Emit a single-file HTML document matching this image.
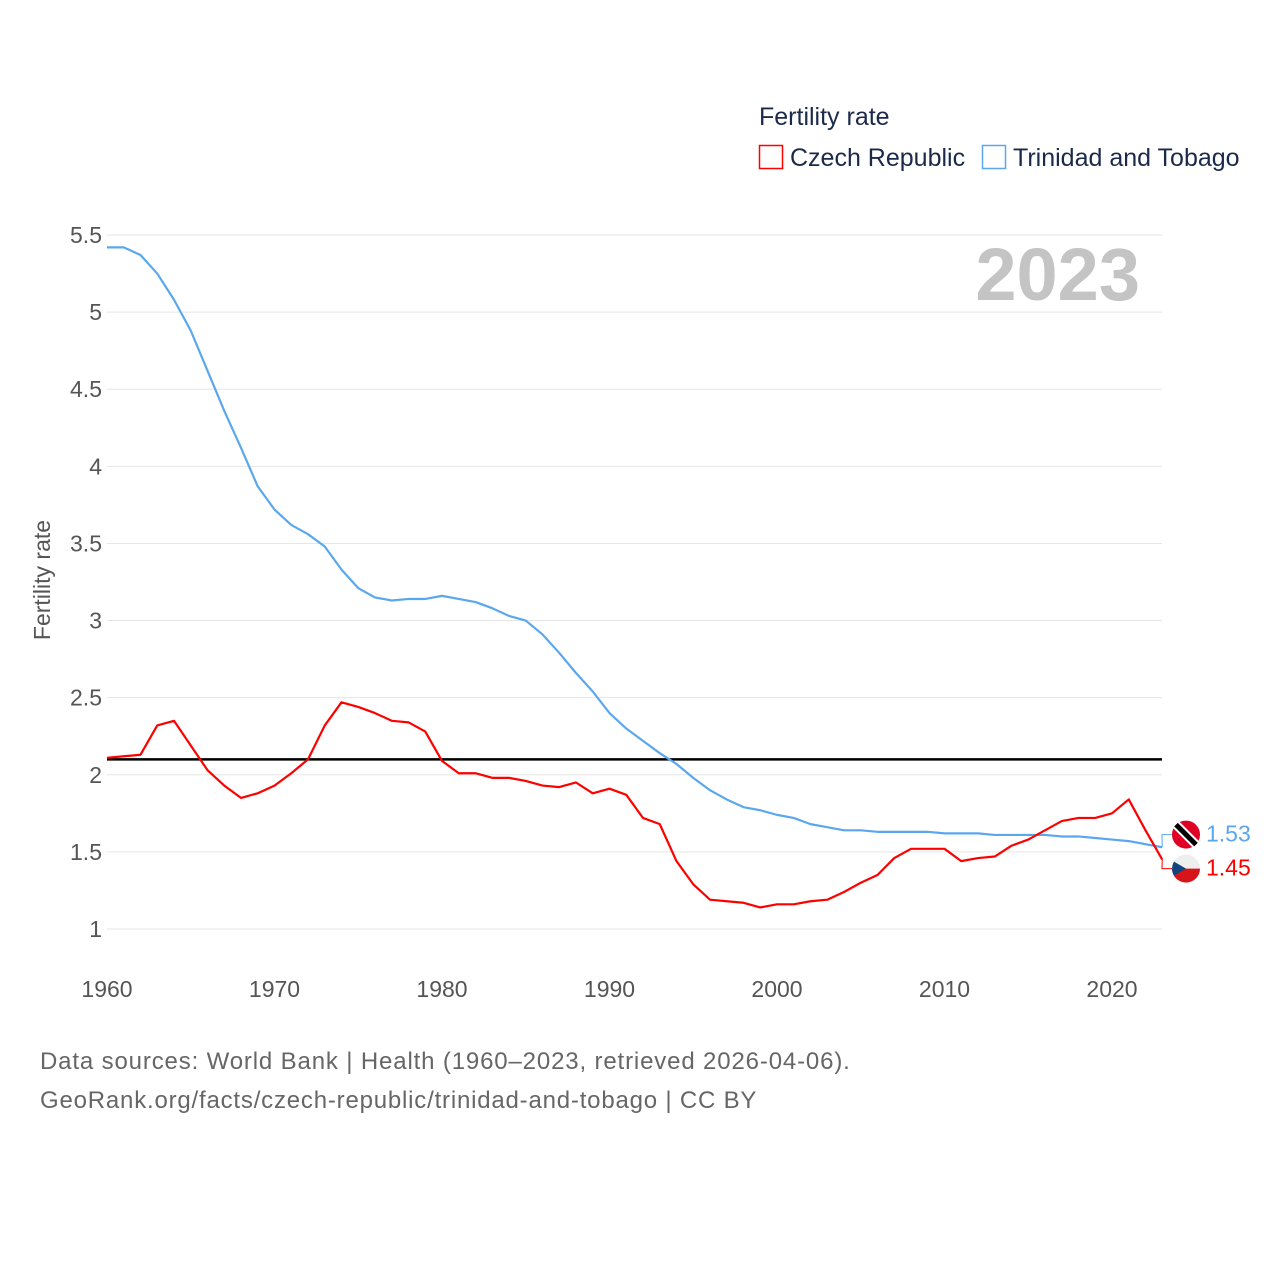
<!DOCTYPE html>
<html><head><meta charset="utf-8"><style>
body{margin:0;background:#fff;}
svg text{font-family:"Liberation Sans",sans-serif;}
</style></head><body>
<svg id="chart" width="1280" height="1280" xmlns="http://www.w3.org/2000/svg">
<rect width="1280" height="1280" fill="#fff"/>
<text x="759" y="125" font-size="25" fill="#1b2a4a">Fertility rate</text>
<g><rect x="759.5" y="145.5" width="23" height="23" fill="none" stroke="#f00" stroke-width="1.5"/><text x="790" y="166" font-size="25" fill="#1b2a4a">Czech Republic</text></g>
<g><rect x="982.5" y="145.5" width="23" height="23" fill="none" stroke="#5ba7ee" stroke-width="1.5"/><text x="1013" y="166" font-size="25" fill="#1b2a4a">Trinidad and Tobago</text></g>
<text x="1140" y="300" font-size="74" font-weight="bold" fill="#c4c4c4" text-anchor="end">2023</text>
<text transform="translate(50,580) rotate(-90)" font-size="23" fill="#555" text-anchor="middle">Fertility rate</text>
<g id="grid"></g><g id="yt"></g><g id="xt"></g><g id="lines"></g>
<text x="40" y="1069" font-size="24" fill="#666" letter-spacing="0.85">Data sources: World Bank | Health (1960–2023, retrieved 2026-04-06).</text>
<text x="40" y="1108" font-size="24" fill="#666" letter-spacing="0.8">GeoRank.org/facts/czech-republic/trinidad-and-tobago | CC BY</text>
</svg>
<script>
const years=[];for(let y=1960;y<=2023;y++)years.push(y);
const trinidad=[5.42,5.42,5.37,5.25,5.08,4.88,4.62,4.36,4.12,3.87,3.72,3.62,3.56,3.48,3.33,3.21,3.15,3.13,3.14,3.14,3.16,3.14,3.12,3.08,3.03,3.00,2.91,2.79,2.66,2.54,2.40,2.30,2.22,2.14,2.07,1.98,1.90,1.84,1.79,1.77,1.74,1.72,1.68,1.66,1.64,1.64,1.63,1.63,1.63,1.63,1.62,1.62,1.62,1.61,1.61,1.61,1.61,1.60,1.60,1.59,1.58,1.57,1.55,1.53];
const czech=[2.11,2.12,2.13,2.32,2.35,2.19,2.03,1.93,1.85,1.88,1.93,2.01,2.10,2.32,2.47,2.44,2.40,2.35,2.34,2.28,2.09,2.01,2.01,1.98,1.98,1.96,1.93,1.92,1.95,1.88,1.91,1.87,1.72,1.68,1.44,1.29,1.19,1.18,1.17,1.14,1.16,1.16,1.18,1.19,1.24,1.30,1.35,1.46,1.52,1.52,1.52,1.44,1.46,1.47,1.54,1.58,1.64,1.70,1.72,1.72,1.75,1.84,1.64,1.45];
const yTicks=[1,1.5,2,2.5,3,3.5,4,4.5,5,5.5];
const yTickLabels=["1","1.5","2","2.5","3","3.5","4","4.5","5","5.5"];
const xTicks=[1960,1970,1980,1990,2000,2010,2020];
const replacement=[2.1];
const NS="http://www.w3.org/2000/svg";
const X=v=>107+(v-1960)*(1005/60);
const Y=v=>929-(v-1)*(694/4.5);
function mk(tag,attrs,parent){const e=document.createElementNS(NS,tag);for(const k in attrs)e.setAttribute(k,attrs[k]);parent.appendChild(e);return e;}
const grid=document.getElementById('grid'),yt=document.getElementById('yt'),xt=document.getElementById('xt'),lines=document.getElementById('lines');
yTicks.forEach((v,i)=>{
 const l=mk('line',{x1:107,x2:1162,y1:Y(v),y2:Y(v),stroke:'#e6e6e6','stroke-width':1},grid);
 
 
 const t=mk('text',{x:102,y:Y(v)+8,'font-size':23,fill:'#555','text-anchor':'end'},yt);t.textContent=yTickLabels[i];
 
 
});
xTicks.forEach(v=>{
 const t=mk('text',{x:X(v),y:997,'font-size':23,fill:'#555','text-anchor':'middle'},xt);t.textContent=v;
 
 
});
const ref=mk('line',{x1:107,x2:1162,y1:Y(replacement[0]),y2:Y(replacement[0]),stroke:'#000','stroke-width':2.5},lines);


function series(arr,color,name){
 const p=mk('polyline',{points:arr.map((v,i)=>X(years[i])+','+Y(v)).join(' '),fill:'none',stroke:color,'stroke-width':2.2,'stroke-linejoin':'round'},lines);
 
 
}
series(trinidad,'#5ba7ee','trinidad-line');
series(czech,'#f00','czech-line');
const lastT=trinidad[trinidad.length-1],lastC=czech[czech.length-1];
const yT=Math.max(Y(lastT),Y(lastC))-25,yC=yT+34;
mk('polyline',{points:`${X(2023)},${Y(lastT)} 1162,${yT} 1172,${yT}`,fill:'none',stroke:'#5ba7ee','stroke-width':1},lines);
mk('polyline',{points:`${X(2023)},${Y(lastC)} 1162,${yC} 1172,${yC}`,fill:'none',stroke:'#f00','stroke-width':1},lines);
const fT=mk('g',{},lines);


mk('circle',{cx:1186,cy:yT,r:14,fill:'#e00025'},fT);
mk('line',{x1:1176,y1:yT-10,x2:1196,y2:yT+10,stroke:'#fff','stroke-width':9},fT);
mk('line',{x1:1176,y1:yT-10,x2:1196,y2:yT+10,stroke:'#000','stroke-width':5},fT);
const fC=mk('g',{},lines);


mk('circle',{cx:1186,cy:yC,r:14,fill:'#eee'},fC);
mk('path',{d:`M1172,${yC} A14,14 0 0 0 1200,${yC} Z`,fill:'#d7141a'},fC);
mk('path',{d:`M1174,${yC-7} L1186,${yC} L1174,${yC+7} A14,14 0 0 1 1174,${yC-7}Z`,fill:'#11457e'},fC);
const tT=mk('text',{x:1206,y:yT+7,'font-size':23,fill:'#5ba7ee'},lines);tT.textContent=lastT.toFixed(2);


const tC=mk('text',{x:1206,y:yC+7,'font-size':23,fill:'#f00'},lines);tC.textContent=lastC.toFixed(2);


</script>
</body></html>
